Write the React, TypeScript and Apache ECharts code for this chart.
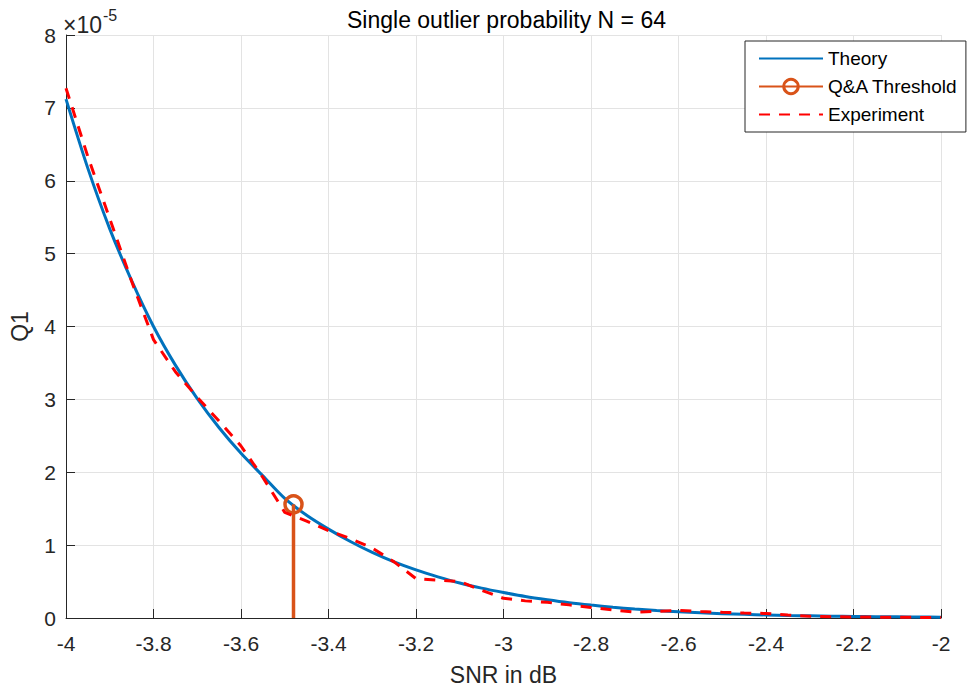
import React, { useEffect, useRef } from "react";
import * as echarts from "echarts";

// SNR grid in dB
const snr = [
  -4.0, -3.95, -3.9, -3.85, -3.8, -3.75, -3.7, -3.65, -3.6, -3.55, -3.5,
  -3.45, -3.4, -3.35, -3.3, -3.25, -3.2, -3.15, -3.1, -3.05, -3.0,
  -2.95, -2.9, -2.85, -2.8, -2.75, -2.7, -2.65, -2.6, -2.55, -2.5,
  -2.45, -2.4, -2.35, -2.3, -2.25, -2.2, -2.15, -2.1, -2.05, -2.0,
];

// Q1 values in units of 1e-5
const theory = [
  7.12, 6.17, 5.34, 4.63, 4.0, 3.47, 3.01, 2.61, 2.26, 1.95, 1.64,
  1.41, 1.22, 1.05, 0.9, 0.77, 0.66, 0.565, 0.48, 0.41, 0.35,
  0.295, 0.25, 0.21, 0.177, 0.148, 0.123, 0.103, 0.086, 0.072, 0.06,
  0.05, 0.042, 0.035, 0.03, 0.025, 0.021, 0.018, 0.016, 0.014, 0.012,
];

const experiment = [
  7.27, 6.33, 5.48, 4.62, 3.82, 3.38, 3.03, 2.7, 2.36, 1.93, 1.45,
  1.33, 1.2, 1.09, 0.96, 0.77, 0.54, 0.52, 0.5, 0.38, 0.27,
  0.235, 0.215, 0.18, 0.145, 0.11, 0.08, 0.092, 0.105, 0.09, 0.078,
  0.068, 0.062, 0.042, 0.025, 0.017, 0.014, 0.012, 0.01, 0.008, 0.007,
];

// Q&A threshold stem
const thresholdSnr = [-3.48];
const thresholdQ = [1.56];

const seriesNames = ["Theory", "Q&A Threshold", "Experiment"];
const yExponent = "-5";

const FONT = "'Liberation Sans', Arial, Helvetica, sans-serif";
const AXIS_COLOR = "#262626";
const GRID_COLOR = "#e3e3e3";

export default function App() {
  const ref = useRef<HTMLDivElement>(null);

  useEffect(() => {
    if (!ref.current) return;
    const chart = echarts.init(ref.current, undefined, { renderer: "svg" });

    const theoryData = snr.map((x, i) => [x, theory[i]]);
    const expData = snr.map((x, i) => [x, experiment[i]]);
    const stemData: any[] = [
      { value: [thresholdSnr[0], 0], symbol: "none" },
      [thresholdSnr[0], thresholdQ[0]],
    ];

    const option: any = {
      animation: false,
      textStyle: { fontFamily: FONT },
      title: {
        text: "Single outlier probability N = 64",
        left: 501.5,
        top: 3,
        textAlign: "center",
        textStyle: { fontSize: 23, fontWeight: "normal", color: "#000", fontFamily: FONT },
      },
      grid: { left: 62, right: 28, top: 35, bottom: 72, containLabel: false },
      legend: {
        orient: "vertical",
        left: 745,
        top: 41,
        padding: [8, 8, 8, 13],
        itemWidth: 64,
        itemHeight: 18,
        itemGap: 9,
        backgroundColor: "#fff",
        borderColor: AXIS_COLOR,
        borderWidth: 1,
        borderRadius: 0,
        textStyle: { fontSize: 19, color: "#000", lineHeight: 18, fontFamily: FONT },
        data: [
          { name: seriesNames[0], itemStyle: { opacity: 0 } },
          {
            name: seriesNames[1],
            itemStyle: { color: "rgba(0,0,0,0)", borderColor: "#D95319", borderWidth: 3 },
          },
          { name: seriesNames[2], itemStyle: { opacity: 0 } },
        ],
      },
      graphic: [
        {
          type: "text",
          style: {
            x: 63,
            y: 25,
            text: "×10",
            fontSize: 23,
            fontFamily: FONT,
            fill: AXIS_COLOR,
            verticalAlign: "middle",
            align: "left",
          },
        },
        {
          type: "text",
          style: {
            x: 103,
            y: 15,
            text: yExponent,
            fontSize: 16,
            fontFamily: FONT,
            fill: AXIS_COLOR,
            verticalAlign: "middle",
            align: "left",
          },
        },
      ],
      xAxis: {
        type: "value",
        min: -4,
        max: -2,
        interval: 0.2,
        name: "SNR in dB",
        nameLocation: "middle",
        nameGap: 45,
        nameTextStyle: { fontSize: 23, color: AXIS_COLOR, fontFamily: FONT },
        axisLine: { onZero: false, lineStyle: { color: AXIS_COLOR, width: 1 } },
        axisTick: { inside: true, length: 9, lineStyle: { color: AXIS_COLOR } },
        axisLabel: {
          fontSize: 21,
          color: AXIS_COLOR,
          margin: 15,
          hideOverlap: false,
          showMinLabel: true,
          showMaxLabel: true,
          formatter: (v: number) => String(Math.round(v * 10) / 10),
        },
        splitLine: { show: true, lineStyle: { color: GRID_COLOR, width: 1 } },
      },
      yAxis: {
        type: "value",
        min: 0,
        max: 8,
        interval: 1,
        name: "Q1",
        nameLocation: "middle",
        nameRotate: 90,
        nameGap: 35,
        nameTextStyle: { fontSize: 23, color: AXIS_COLOR, fontFamily: FONT },
        axisLine: { show: true, lineStyle: { color: AXIS_COLOR, width: 1 } },
        axisTick: { show: true, inside: true, length: 9, lineStyle: { color: AXIS_COLOR } },
        axisLabel: {
          fontSize: 21,
          color: AXIS_COLOR,
          margin: 10,
          showMinLabel: true,
          showMaxLabel: true,
        },
        splitLine: { show: true, lineStyle: { color: GRID_COLOR, width: 1 } },
      },
      series: [
        {
          name: seriesNames[0],
          type: "line",
          data: theoryData,
          symbol: "none",
          smooth: 0.3,
          lineStyle: { color: "#0072BD", width: 3 },
          itemStyle: { color: "#0072BD" },
          z: 2,
        },
        {
          name: seriesNames[1],
          type: "line",
          data: stemData,
          symbol: "circle",
          symbolSize: 17,
          showSymbol: true,
          lineStyle: { color: "#D95319", width: 3.5 },
          itemStyle: { color: "rgba(0,0,0,0)", borderColor: "#D95319", borderWidth: 3.5 },
          z: 3,
        },
        {
          name: seriesNames[2],
          type: "line",
          data: expData,
          symbol: "none",
          lineStyle: { color: "#FF0000", width: 3, type: [11, 9], cap: "butt" },
          itemStyle: { color: "#FF0000" },
          z: 4,
        },
      ],
    };

    chart.setOption(option);
    return () => chart.dispose();
  }, []);

  return (
    <div
      ref={ref}
      style={{ position: "fixed", left: 0, top: 0, width: 969, height: 691, background: "#fff" }}
    />
  );
}
